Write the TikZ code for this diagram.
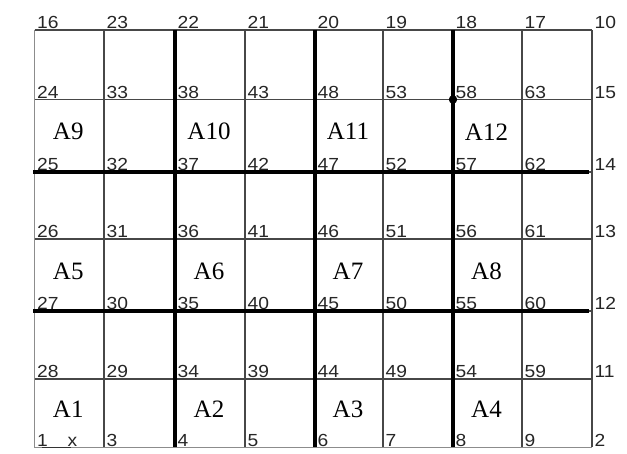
\documentclass[tikz,border=0pt]{standalone}
\usepackage{fontspec}
\usetikzlibrary{calc}
\newfontfamily\numfont[FakeStretch=1.1]{Liberation Sans}
\newfontfamily\areafont{Liberation Serif}
\tikzset{
  thin grid/.style={draw=black!72, line width=1.3pt},
  border/.style={draw=black!45, line width=1.1pt},
  thick grid/.style={draw=black, line width=4.2pt},
  numlbl/.style={anchor=base west, inner sep=0pt, font=\numfont\fontsize{17.5}{18}\selectfont, text=black!85},
  arealbl/.style={anchor=center, inner sep=0pt, font=\areafont\fontsize{25}{26}\selectfont},
}
\begin{document}
\begin{tikzpicture}[x=1pt,y=-1pt]
\useasboundingbox (0,0) rectangle (627,454);
% grid coordinates
\foreach \xv [count=\i from 0] in {34.5,104,175,245,315,383,453,522,592}{
  \foreach \yv [count=\j from 0] in {30,99.5,172,239,311,379,447.5}{
    \coordinate (p-\i-\j) at (\xv,\yv);
  }
}
% thin grid lines
\foreach \i in {1,...,8}{ \draw[thin grid] (p-\i-0) -- (p-\i-6); }
\foreach \j in {0,...,5}{ \draw[thin grid] (p-0-\j) -- (p-8-\j); }
\draw[border] (p-0-0) -- (p-0-6) -- (p-8-6);
\draw[draw=black!80, line width=1.3pt] ([xshift=7pt]p-0-6) -- ([xshift=36pt]p-0-6);
% thick lines
\foreach \i in {2,4,6}{ \draw[thick grid] (p-\i-0) -- (p-\i-6); }
\foreach \j in {2,4}{ \draw[thick grid] ([xshift=-1.5pt]p-0-\j) -- ([xshift=-3pt]p-8-\j); }
% dot
\fill (p-6-1) circle (4.2pt);
% number labels
\foreach \row [count=\j from 0] in {
  {16,23,22,21,20,19,18,17,10},
  {24,33,38,43,48,53,58,63,15},
  {25,32,37,42,47,52,57,62,14},
  {26,31,36,41,46,51,56,61,13},
  {27,30,35,40,45,50,55,60,12},
  {28,29,34,39,44,49,54,59,11},
  {1,3,4,5,6,7,8,9,2}}{
  \foreach \n [count=\i from 0] in \row {
    \node[numlbl] (n-\n) at ([xshift=2.5pt,yshift=1pt]p-\i-\j) {\n};
  }
}
\node[numlbl] (xlbl) at ([xshift=33pt,yshift=1pt]p-0-6) {x};
% area labels
\foreach \lab/\i/\j in {A9/0/1,A10/2/1,A11/4/1,A12/6/1,A5/0/3,A6/2/3,A7/4/3,A8/6/3,A1/0/5,A2/2/5,A3/4/5,A4/6/5}{
  \pgfmathtruncatemacro{\ii}{\i+1}
  \pgfmathtruncatemacro{\jj}{\j+1}
  \node[arealbl] (\lab) at ($ (p-\i-\j)!0.5!(p-\ii-\jj) + (-1,-4) $) {\lab};
}
\end{tikzpicture}
\end{document}
